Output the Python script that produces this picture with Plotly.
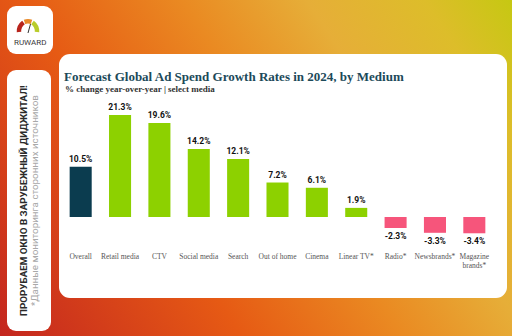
import base64
import plotly.graph_objects as go

categories = ["Overall", "Retail media", "CTV", "Social media", "Search", "Out of home",
              "Cinema", "Linear TV*", "Radio*", "Newsbrands*", "Magazine<br>brands*"]
values = [10.5, 21.3, 19.6, 14.2, 12.1, 7.2, 6.1, 1.9, -2.3, -3.3, -3.4]
bar_colors = ["#0B3C4F"] + ["#8DD100"] * 7 + ["#F6557B"] * 3
value_labels = [f"<b>{v:.1f}%</b>" for v in values]

title_text = "Forecast Global Ad Spend Growth Rates in 2024, by Medium"
subtitle_text = "% change year-over-year | select media"
brand_text = "RUWARD"
side_bold = "ПРОРУБАЕМ ОКНО В ЗАРУБЕЖНЫЙ ДИДЖИТАЛ!"
side_note = "*Данные мониторинга сторонних источников"

W, H = 512, 336
ML, MR, MT, MB = 61, 18, 105, 86
PW, PH = W - ML - MR, H - MT - MB


def px(x):
    return (x - ML) / PW


def py(y):
    return (H - MB - y) / PH


svg = f'''<svg xmlns="http://www.w3.org/2000/svg" width="{W}" height="{H}" viewBox="0 0 {W} {H}">
<defs>
<linearGradient id="g" x1="0" y1="{H}" x2="{W}" y2="0" gradientUnits="userSpaceOnUse">
<stop offset="0" stop-color="#C4261F"/>
<stop offset="0.33" stop-color="#E65A14"/>
<stop offset="0.55" stop-color="#EA8A22"/>
<stop offset="0.72" stop-color="#E6AE38"/>
<stop offset="0.88" stop-color="#DDBD2A"/>
<stop offset="1" stop-color="#C6C812"/>
</linearGradient>
</defs>
<rect x="0" y="0" width="{W}" height="{H}" fill="url(#g)"/>
<rect x="7" y="6" width="46" height="48" rx="9" ry="9" fill="#FFFFFF"/>
<rect x="7" y="70" width="44" height="261" rx="9" ry="9" fill="#FFFFFF"/>
<rect x="59" y="54" width="448" height="244" rx="11" ry="11" fill="#FFFFFF"/>
<path d="M19 32 A11 11 0 0 1 23.5 22.5" stroke="#B8241C" stroke-width="4.5" fill="none"/>
<path d="M24.5 21.8 A11 11 0 0 1 31.5 21.8" stroke="#E98A2A" stroke-width="4.5" fill="none"/>
<path d="M32.5 22.5 A11 11 0 0 1 37 32" stroke="#B9CC2A" stroke-width="4.5" fill="none"/>
<line x1="28" y1="33" x2="30.5" y2="24" stroke="#333" stroke-width="1"/>
</svg>'''
svg_uri = "data:image/svg+xml;base64," + base64.b64encode(svg.encode()).decode()

fig = go.Figure()
fig.add_trace(go.Bar(
    x=list(range(len(categories))), y=values,
    marker=dict(color=bar_colors, line=dict(width=0)),
    text=value_labels, textposition="outside", cliponaxis=False,
    constraintext="none",
    textfont=dict(family="Roboto", size=8.5, color="#111111"),
    width=0.56,
))

fig.update_layout(
    width=W, height=H,
    margin=dict(l=ML, r=MR, t=MT, b=MB),
    paper_bgcolor="#FFFFFF", plot_bgcolor="rgba(0,0,0,0)",
    showlegend=False,
    xaxis=dict(tickmode="array", tickvals=list(range(len(categories))), ticktext=categories,
               range=[-0.5, len(categories) - 0.5], showgrid=False, zeroline=False,
               showline=False, ticks="",
               tickfont=dict(family="Liberation Serif", size=7.5, color="#555555")),
    yaxis=dict(range=[-6.89, 23.38], showgrid=False, zeroline=False, showticklabels=False,
               showline=False, ticks=""),
    images=[dict(source=svg_uri, xref="paper", yref="paper", x=px(0), y=py(0),
                 sizex=W / PW, sizey=H / PH, xanchor="left", yanchor="top",
                 sizing="stretch", layer="below")],
    annotations=[
        dict(text=f"<b>{title_text}</b>", xref="paper", yref="paper", x=px(62), y=py(76),
             xanchor="left", yanchor="middle", showarrow=False,
             font=dict(family="Liberation Serif", size=13, color="#1C4A5A")),
        dict(text=f"<b>{subtitle_text}</b>", xref="paper", yref="paper", x=px(63), y=py(89),
             xanchor="left", yanchor="middle", showarrow=False,
             font=dict(family="Liberation Serif", size=9, color="#333333")),
        dict(text=brand_text, xref="paper", yref="paper", x=px(30), y=py(42),
             xanchor="center", yanchor="middle", showarrow=False,
             font=dict(family="Roboto", size=8, color="#3A3A3A")),
        dict(text=f"<b>{side_bold}</b>", xref="paper", yref="paper", x=px(23), y=py(201),
             xanchor="center", yanchor="middle", showarrow=False, textangle=-90,
             font=dict(family="Roboto", size=9.8, color="#2A2A2A")),
        dict(text=side_note, xref="paper", yref="paper", x=px(34), y=py(201),
             xanchor="center", yanchor="middle", showarrow=False, textangle=-90,
             font=dict(family="Roboto", size=9.8, color="#A8A8A8")),
    ],
)

fig.write_html("out.html")
